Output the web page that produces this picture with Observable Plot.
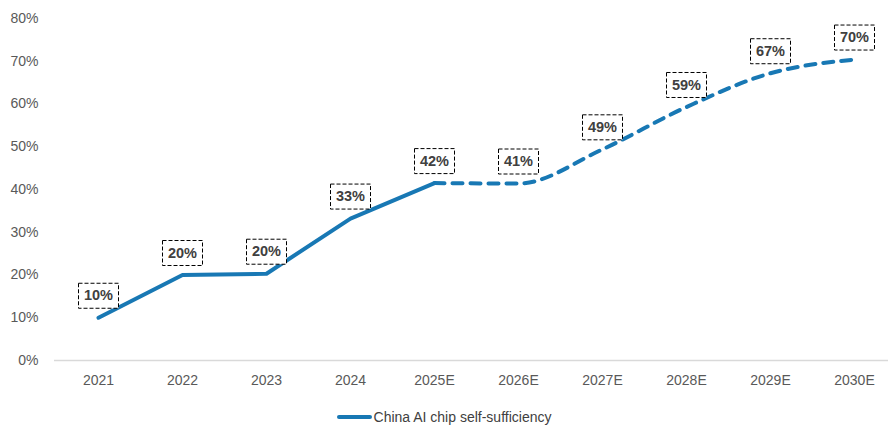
<!DOCTYPE html>
<html>
<head>
<meta charset="utf-8">
<script src="https://cdn.jsdelivr.net/npm/d3@7"></script>
<script src="https://cdn.jsdelivr.net/npm/@observablehq/plot@0.6"></script>
<style>
  html, body { margin: 0; padding: 0; background: #fff; }
  #chart { width: 888px; }
  .legend { display: flex; justify-content: center; align-items: center; height: 20px; padding-top: 7px;
    font-family: "Liberation Sans", Arial, sans-serif; font-size: 14px; color: #404040; }
  .legend svg { margin-right: 2px; }
</style>
</head>
<body>
<div id="chart"></div>
<script>
const years = ["2021", "2022", "2023", "2024", "2025E", "2026E", "2027E", "2028E", "2029E", "2030E"];
const values = [10, 20, 20.3, 33.2, 41.5, 41.4, 49.4, 59.3, 67.2, 70.4];
const labels = ["10%", "20%", "20%", "33%", "42%", "41%", "49%", "59%", "67%", "70%"];
const yTicks = [0, 10, 20, 30, 40, 50, 60, 70, 80];
const seriesName = "China AI chip self-sufficiency";
const lineColor = "#1878b4";

const data = years.map((year, i) => ({year, value: values[i], label: labels[i]}));
const actual = data.slice(0, 5);
const forecast = data.slice(4);

const boxSymbol = {
  draw(context) {
    context.moveTo(-20, -12.5);
    context.lineTo(20, -12.5);
    context.lineTo(20, 12.5);
    context.lineTo(-20, 12.5);
    context.closePath();
  }
};

const chart = Plot.plot({
  width: 888,
  height: 400,
  marginLeft: 54,
  marginRight: 0,
  marginTop: 18,
  marginBottom: 40,
  style: {fontFamily: "'Liberation Sans', Arial, sans-serif", fontSize: "14px", background: "#fff"},
  x: {type: "point", domain: years, range: [96, 856], padding: 0},
  y: {domain: [0, 80]},
  marks: [
    Plot.ruleY([0], {stroke: "#d9d9d9", strokeWidth: 1.5}),
    Plot.axisY({ticks: yTicks, tickFormat: d => d + "%", tickSize: 0, tickPadding: 16, label: null, color: "#595959", fontSize: 14}),
    Plot.axisX({tickSize: 0, tickPadding: 15, label: null, color: "#595959", fontSize: 14}),
    Plot.line(actual, {x: "year", y: "value", stroke: lineColor, strokeWidth: 4, strokeLinejoin: "round", strokeLinecap: "round"}),
    Plot.line(forecast, {x: "year", y: "value", stroke: lineColor, strokeWidth: 4, strokeDasharray: "10,8", strokeLinecap: "round", curve: "monotone-x"}),
    Plot.dot(data, {x: "year", y: "value", dy: -22, symbol: boxSymbol, r: 5, fill: "white", stroke: "#000", strokeWidth: 1, strokeDasharray: "4,2"}),
    Plot.text(data, {x: "year", y: "value", dy: -22, text: "label", fontWeight: "bold", fontSize: 14.5, fill: "#404040"})
  ]
});
document.getElementById("chart").append(chart);

const legend = document.createElement("div");
legend.className = "legend";
legend.innerHTML = `<svg width="35" height="6"><line x1="2" y1="3" x2="33" y2="3" stroke="${lineColor}" stroke-width="4" stroke-linecap="round"/></svg><span>${seriesName}</span>`;
document.getElementById("chart").append(legend);
</script>
</body>
</html>
